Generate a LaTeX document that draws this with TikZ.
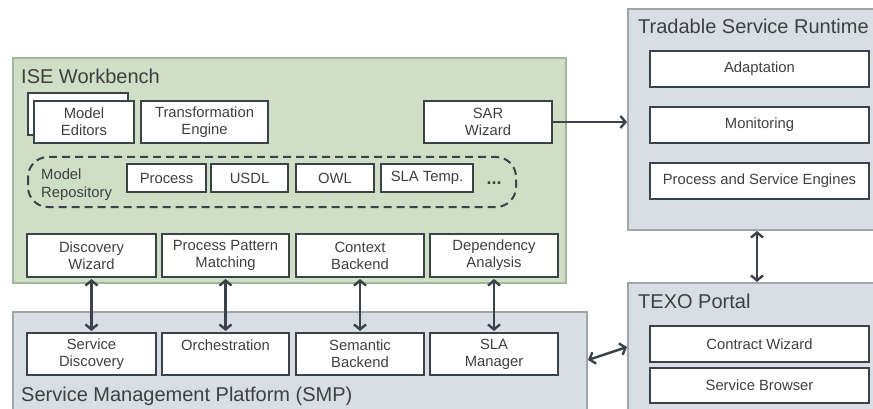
\documentclass[tikz,border=0pt]{standalone}
\usepackage{fontspec}
\setmainfont{Liberation Sans}
\usetikzlibrary{arrows.meta}
\definecolor{wbfill}{HTML}{CEDFC5}
\definecolor{wbline}{HTML}{A3B79A}
\definecolor{pfill}{HTML}{D8DEE3}
\definecolor{pline}{HTML}{9EA6AD}
\definecolor{bline}{HTML}{3A424A}
\definecolor{txt}{HTML}{404040}
\tikzset{
  x=1pt, y=-1pt,
  box/.style={draw=bline, line width=2pt, fill=white, text=txt, align=center,
    inner sep=0pt, font=\fontsize{14.8}{17}\selectfont},
  wbench/.style={draw=wbline, line width=1.5pt, fill=wbfill},
  platform/.style={draw=pline, line width=1.5pt, fill=pfill},
  title/.style={text=txt, anchor=west, inner sep=0pt, font=\fontsize{20}{22}\selectfont},
  link/.style={draw=bline, line width=2.4pt},
  barb/.tip={Straight Barb[length=5pt, width=12pt, line width=2.4pt]},
  both/.style={barb-barb},
}
\newcommand{\boxat}[6]{% name, x1, y1, x2, y2, text
  \node[box, minimum width={#4-#2}, minimum height={#5-#3}] (#1) at ({(#2+#4)/2},{(#3+#5)/2}) {#6};}
\begin{document}
\begin{tikzpicture}
\useasboundingbox (0,0) rectangle (873,409);

% containers
\path[wbench] (13,58) rectangle (566,283);
\path[platform] (13,312) rectangle (587,430);
\path[platform] (628,9) rectangle (890,230);
\path[platform] (628,283) rectangle (890,430);

\node[title] (tw) at (21,76) {ISE Workbench};
\node[title] (tsmp) at (21,396) {Service Management Platform (SMP)};
\node[title] (ttsr) at (638,26) {Tradable Service Runtime};
\node[title] (ttexo) at (638,301) {TEXO Portal};

% workbench editors
\draw[draw=bline, line width=2pt, fill=white] (28,93) rectangle (128,135);
\boxat{me}{34}{101}{134}{143}{Model\\Editors}
\boxat{te}{141}{101}{268}{143}{Transformation\\Engine}
\boxat{sar}{424}{101}{552}{143}{SAR\\Wizard}

% model repository
\draw[draw=bline, line width=2pt, dash pattern=on 8pt off 5pt, rounded corners=20pt]
  (28,157) rectangle (516,207);
\node[text=txt, align=left, anchor=west, inner sep=0pt, font=\fontsize{14.8}{18}\selectfont]
  (mr) at (41,185) {Model\\Repository};
\boxat{rp}{127}{164}{206}{192}{Process}
\boxat{ru}{211}{164}{288}{192}{USDL}
\boxat{ro}{296}{164}{374}{192}{OWL}
\boxat{rs}{381}{164}{473}{192}{SLA Temp.}
\node[text=txt, inner sep=0pt, font=\fontsize{18}{20}\selectfont\bfseries] (dots) at (494,183) {...};

% workbench bottom row
\boxat{dw}{27}{234}{156}{277}{Discovery\\Wizard}
\boxat{pp}{162}{234}{289}{277}{Process Pattern\\Matching}
\boxat{cb}{296}{234}{424}{277}{Context\\Backend}
\boxat{da}{430}{234}{558}{277}{Dependency\\Analysis}

% platform row
\boxat{sd}{27}{333}{156}{375}{Service\\Discovery}
\boxat{or}{162}{333}{289}{375}{Orchestration\\\mbox{}}
\boxat{sb}{296}{333}{424}{375}{Semantic\\Backend}
\boxat{sm}{430}{333}{558}{375}{SLA\\Manager}

% runtime
\boxat{ad}{650}{51}{869}{87}{Adaptation}
\boxat{mo}{650}{107}{869}{143}{Monitoring}
\boxat{pe}{650}{163}{869}{199}{Process and Service Engines}

% portal
\boxat{cw}{650}{326}{869}{362}{Contract Wizard}
\boxat{sbr}{650}{368}{869}{403}{Service Browser}

% connectors
\coordinate (tsrw) at (627,122);
\coordinate (tsrb) at (757,231);
\coordinate (texot) at (757,282);
\coordinate (smpr) at (588,360);
\coordinate (texol) at (627,347);
\draw[link, -barb] (sar.east) -- (tsrw);
\draw[link, both] ([yshift=-1pt]dw.south) -- ([yshift=1pt]sd.north);
\draw[link, both] ([yshift=-1pt]pp.south) -- ([yshift=1pt]or.north);
\draw[link, both] ([yshift=-1pt]cb.south) -- ([yshift=1pt]sb.north);
\draw[link, both] ([yshift=-1pt]da.south) -- ([yshift=1pt]sm.north);
\draw[link, both] (tsrb) -- (texot);
\draw[link, both] (smpr) -- (texol);
\end{tikzpicture}
\end{document}
